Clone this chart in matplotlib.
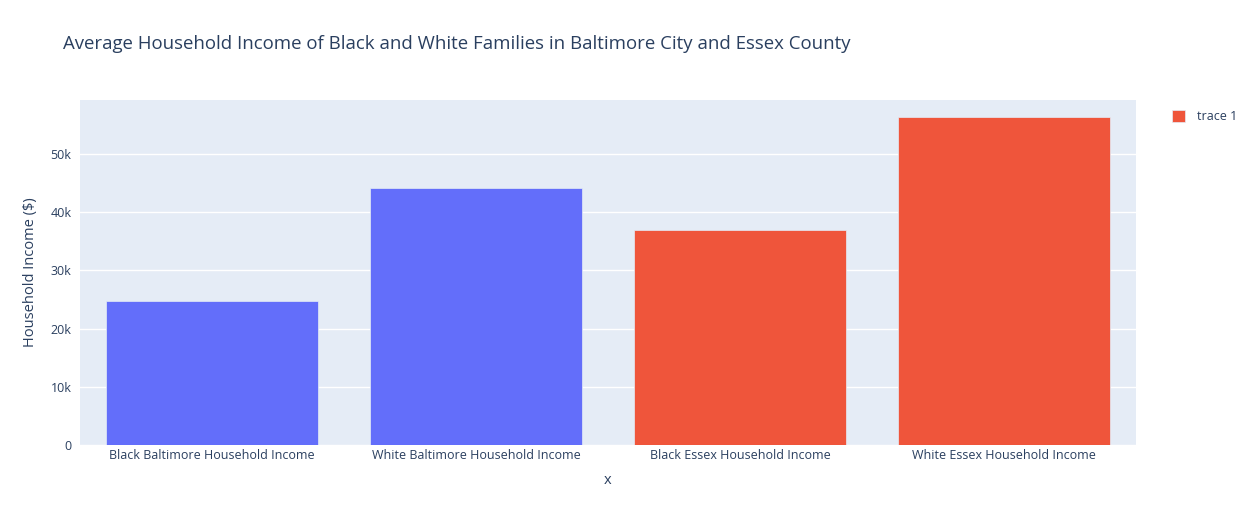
import matplotlib.pyplot as plt
from matplotlib.ticker import FuncFormatter

plt.rcParams['font.family'] = ['Open Sans', 'DejaVu Sans']

cats_0 = ['Black Baltimore Household Income', 'White Baltimore Household Income']
vals_0 = [24700, 44150]
cats_1 = ['Black Essex Household Income', 'White Essex Household Income']
vals_1 = [36900, 56400]

fig = plt.figure(figsize=(12.57, 5.25), dpi=100)
ax = fig.add_axes([80/1257, 80/525, 1056/1257, 345/525])
ax.set_facecolor('#E5ECF6')

ax.bar(cats_0, vals_0, width=0.8, color='#636efa', edgecolor='#E5ECF6', lw=0.5, label='_nolegend_', zorder=3)
ax.bar(cats_1, vals_1, width=0.8, color='#EF553B', edgecolor='#E5ECF6', lw=0.5, label='trace 1', zorder=3)

ax.set_xlim(-0.5, 3.5)
ax.set_ylim(0, 59300)
ax.set_yticks([0, 10000, 20000, 30000, 40000, 50000])
ax.yaxis.set_major_formatter(FuncFormatter(lambda v, p: '0' if v == 0 else '%dk' % (v/1000)))
ax.grid(axis='y', color='white', lw=1, zorder=0)
ax.set_axisbelow(True)
for s in ax.spines.values():
    s.set_visible(False)
ax.tick_params(length=0, labelsize=9, colors='#2a3f5f', pad=6)
ax.tick_params(axis='x', pad=3)

ax.set_xlabel('x', fontsize=10.5, color='#2a3f5f', labelpad=8)
ax.set_ylabel('Household Income ($)', fontsize=10.5, color='#2a3f5f', labelpad=9)

fig.text(63/1257, 1 - 44/525, 'Average Household Income of Black and White Families in Baltimore City and Essex County',
         fontsize=13.4, color='#2a3f5f', va='center', ha='left')

leg = fig.legend(loc='upper left', bbox_to_anchor=(1161/1257, 1 - 99/525), frameon=False,
                 fontsize=9, handlelength=1.0, handleheight=1.0, handletextpad=1.0)
for t in leg.get_texts():
    t.set_color('#2a3f5f')

fig.savefig('out.png', dpi=100)
